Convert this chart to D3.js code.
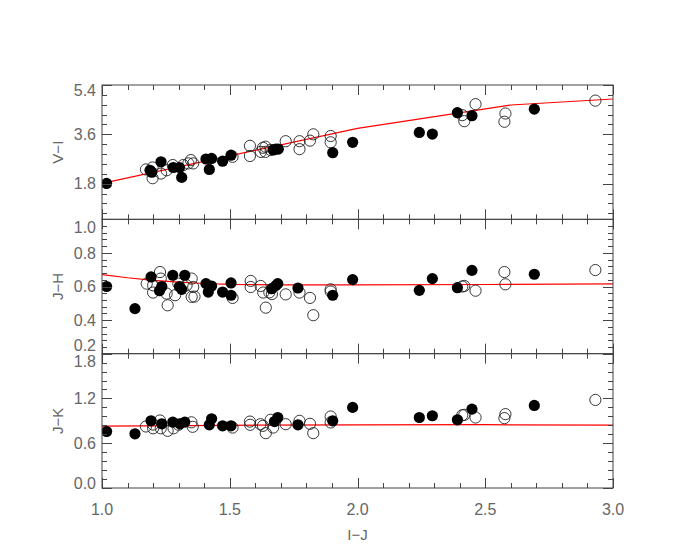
<!DOCTYPE html>
<html><head><meta charset="utf-8">
<script src="https://cdn.jsdelivr.net/npm/d3@7"></script>
<style>body{margin:0;background:#fff}</style>
</head><body>
<svg id="c" width="681" height="545"></svg>
<script>
// ---------- data ----------
const xLabel = "I\u2212J";
const panelLabels = ["V\u2212I", "J\u2212H", "J\u2212K"];
const xTicks = [1.0, 1.5, 2.0, 2.5, 3.0];
const viTicks = [1.8, 3.6, 5.4];
const jhTicks = [0.2, 0.4, 0.6, 0.8, 1.0];
const jkTicks = [0.0, 0.6, 1.2, 1.8];

const viFilled = [[1.018,1.81],[1.188,2.29],[1.195,2.22],[1.231,2.60],[1.279,2.39],[1.303,2.39],[1.312,2.03],[1.407,2.70],[1.42,2.32],[1.429,2.72],[1.472,2.62],[1.505,2.84],[1.67,3.03],[1.68,3.06],[1.69,3.06],[1.903,2.93],[1.981,3.31],[2.242,3.67],[2.293,3.61],[2.391,4.39],[2.448,4.28],[2.692,4.52]];
const viOpen = [[1.172,2.32],[1.198,2.39],[1.198,2.0],[1.231,2.17],[1.253,2.29],[1.277,2.48],[1.318,2.48],[1.338,2.54],[1.348,2.66],[1.357,2.54],[1.511,2.78],[1.579,3.18],[1.579,2.81],[1.622,2.96],[1.63,3.11],[1.64,3.15],[1.64,2.96],[1.66,3.03],[1.719,3.35],[1.773,3.35],[1.773,3.06],[1.814,3.37],[1.827,3.6],[1.895,3.54],[1.895,3.31],[2.41,4.30],[2.418,4.08],[2.462,4.7],[2.575,4.06],[2.579,4.36],[2.931,4.83]];

const jhFilled = [[1.018,0.60],[1.129,0.468],[1.192,0.657],[1.234,0.60],[1.225,0.575],[1.277,0.667],[1.303,0.60],[1.312,0.583],[1.324,0.667],[1.407,0.617],[1.416,0.567],[1.429,0.603],[1.472,0.567],[1.505,0.621],[1.505,0.548],[1.664,0.587],[1.68,0.605],[1.688,0.617],[1.767,0.591],[1.903,0.548],[1.981,0.641],[2.242,0.577],[2.293,0.647],[2.391,0.593],[2.448,0.696],[2.692,0.673]];
const jhOpen = [[1.175,0.617],[1.2,0.607],[1.2,0.564],[1.227,0.686],[1.23,0.647],[1.253,0.558],[1.257,0.488],[1.286,0.548],[1.299,0.617],[1.331,0.607],[1.351,0.647],[1.351,0.538],[1.357,0.597],[1.362,0.54],[1.511,0.532],[1.582,0.633],[1.582,0.597],[1.621,0.603],[1.631,0.564],[1.641,0.474],[1.655,0.565],[1.665,0.555],[1.719,0.553],[1.773,0.564],[1.814,0.532],[1.827,0.429],[1.895,0.583],[1.895,0.57],[2.41,0.60],[2.418,0.603],[2.462,0.575],[2.575,0.686],[2.579,0.613],[2.931,0.698]];

const jkFilled = [[1.018,0.757],[1.129,0.726],[1.192,0.90],[1.234,0.86],[1.277,0.883],[1.305,0.86],[1.324,0.883],[1.42,0.847],[1.429,0.927],[1.472,0.833],[1.505,0.833],[1.675,0.89],[1.688,0.945],[1.767,0.847],[1.903,0.90],[1.981,1.08],[2.242,0.945],[2.293,0.968],[2.391,0.914],[2.448,1.057],[2.692,1.106]];
const jkOpen = [[1.172,0.824],[1.2,0.80],[1.2,0.85],[1.227,0.905],[1.23,0.80],[1.257,0.766],[1.28,0.80],[1.3,0.847],[1.35,0.88],[1.355,0.82],[1.511,0.81],[1.579,0.89],[1.58,0.847],[1.62,0.855],[1.63,0.833],[1.641,0.735],[1.66,0.914],[1.67,0.81],[1.719,0.855],[1.773,0.90],[1.814,0.86],[1.827,0.735],[1.895,0.958],[1.895,0.878],[2.41,0.975],[2.418,0.98],[2.462,0.945],[2.575,0.936],[2.579,0.99],[2.931,1.18]];

const viCurveX = [1.0, 2.0, 2.6, 3.0];
const viCurveY = [1.81, 3.82, 4.67, 4.89];
const jhCurveX = [1.0, 1.1, 1.2, 1.3, 1.4, 1.5, 1.7, 2.0, 2.5, 3.0];
const jhCurveY = [0.671, 0.652, 0.637, 0.626, 0.618, 0.613, 0.610, 0.610, 0.612, 0.616];
const jkCurveX = [1.0, 1.5, 2.0, 2.5, 3.0];
const jkCurveY = [0.829, 0.840, 0.847, 0.848, 0.843];

// ---------- layout ----------
const mLeft = 102, mRight = 613, mTop = 85, mBottom = 488;
const ph = (mBottom - mTop) / 3;
const svg = d3.select("#c");
const font = "'Liberation Sans', Arial, sans-serif";
const tickCol = "#444", txtCol = "#666";

const x = d3.scaleLinear().domain([1, 3]).range([mLeft, mRight]);

const panels = [
  {label: panelLabels[0], domain: [0.5, 5.4], ticks: viTicks, minor: 0.36, filled: viFilled, open: viOpen, cx: viCurveX, cy: viCurveY},
  {label: panelLabels[1], domain: [0.2, 1.0], ticks: jhTicks, minor: 0.04, filled: jhFilled, open: jhOpen, cx: jhCurveX, cy: jhCurveY},
  {label: panelLabels[2], domain: [0.0, 1.8], ticks: jkTicks, minor: 0.12, filled: jkFilled, open: jkOpen, cx: jkCurveX, cy: jkCurveY}
];

function minorVals(lo, hi, step) {
  const out = [];
  for (let k = Math.ceil(lo / step - 1e-6); k * step <= hi + 1e-6; k++) out.push(+(k * step).toFixed(6));
  return out;
}
const xMinor = minorVals(1, 3, 0.1);

panels.forEach((p, i) => {
  const y0 = mTop + i * ph, y1 = y0 + ph;
  const y = d3.scaleLinear().domain(p.domain).range([y1, y0]);
  const g = svg.append("g");
  const clipId = "clip" + i;
  svg.append("clipPath").attr("id", clipId).append("rect")
    .attr("x", mLeft).attr("y", y0).attr("width", mRight - mLeft).attr("height", ph);

  // red curve
  const curve = p.cx.map((v, k) => [v, p.cy[k]]);
  g.append("path").datum(curve)
    .attr("clip-path", `url(#${clipId})`)
    .attr("fill", "none").attr("stroke", "#ff0000").attr("stroke-width", 1.2)
    .attr("d", d3.line().x(d => x(d[0])).y(d => y(d[1])));

  // points
  const pg = g.append("g").attr("clip-path", `url(#${clipId})`);
  pg.selectAll("circle.o").data(p.open).join("circle").attr("class", "o")
    .attr("cx", d => x(d[0])).attr("cy", d => y(d[1])).attr("r", 5.6)
    .attr("fill", "none").attr("stroke", "#222").attr("stroke-width", 0.9);
  pg.selectAll("circle.f").data(p.filled).join("circle").attr("class", "f")
    .attr("cx", d => x(d[0])).attr("cy", d => y(d[1])).attr("r", 5.6)
    .attr("fill", "#000");

  // frame
  g.append("rect").attr("x", mLeft).attr("y", y0).attr("width", mRight - mLeft).attr("height", ph)
    .attr("fill", "none").attr("stroke", tickCol).attr("stroke-width", 1);

  // y ticks (left and right, inward)
  const yMinor = minorVals(p.domain[0], p.domain[1], p.minor);
  const isMajor = v => p.ticks.some(t => Math.abs(t - v) < 1e-6);
  yMinor.concat(p.ticks).forEach(v => {
    const len = isMajor(v) ? 10 : 5;
    const yy = Math.round(y(v)) + 0.5;
    g.append("line").attr("x1", mLeft).attr("x2", mLeft + len).attr("y1", yy).attr("y2", yy).attr("stroke", tickCol);
    g.append("line").attr("x1", mRight).attr("x2", mRight - len).attr("y1", yy).attr("y2", yy).attr("stroke", tickCol);
  });
  // x ticks (top and bottom of each panel, inward)
  xMinor.forEach(v => {
    const len = xTicks.some(t => Math.abs(t - v) < 1e-6) ? 10 : 5;
    const xx = Math.round(x(v)) + 0.5;
    g.append("line").attr("x1", xx).attr("x2", xx).attr("y1", y1).attr("y2", y1 - len).attr("stroke", tickCol);
    g.append("line").attr("x1", xx).attr("x2", xx).attr("y1", y0).attr("y2", y0 + len).attr("stroke", tickCol);
  });

  // y tick labels (labels at the panel edges are nudged inward)
  p.ticks.forEach(v => {
    let yy = y(v);
    if (Math.abs(yy - y0) < 1) yy += (i === 0 ? 5 : 8);
    if (Math.abs(yy - y1) < 1) yy -= (i === 2 ? 5 : 8);
    g.append("text").attr("x", 96).attr("y", yy).attr("dy", "0.36em")
      .attr("text-anchor", "end").attr("font-family", font).attr("font-size", 16)
      .attr("fill", txtCol).text(d3.format(".1f")(v));
  });

  // panel label
  g.append("text").attr("transform", `translate(63,${(y0 + y1) / 2}) rotate(-90)`)
    .attr("text-anchor", "middle").attr("font-family", font).attr("font-size", 15)
    .attr("fill", txtCol).text(p.label);
});

// x tick labels
xTicks.forEach(v => {
  svg.append("text").attr("x", x(v)).attr("y", 515).attr("text-anchor", "middle")
    .attr("font-family", font).attr("font-size", 16).attr("fill", txtCol).text(d3.format(".1f")(v));
});
svg.append("text").attr("x", (mLeft + mRight) / 2).attr("y", 540).attr("text-anchor", "middle")
  .attr("font-family", font).attr("font-size", 15).attr("fill", txtCol).text(xLabel);
</script>
</body></html>
